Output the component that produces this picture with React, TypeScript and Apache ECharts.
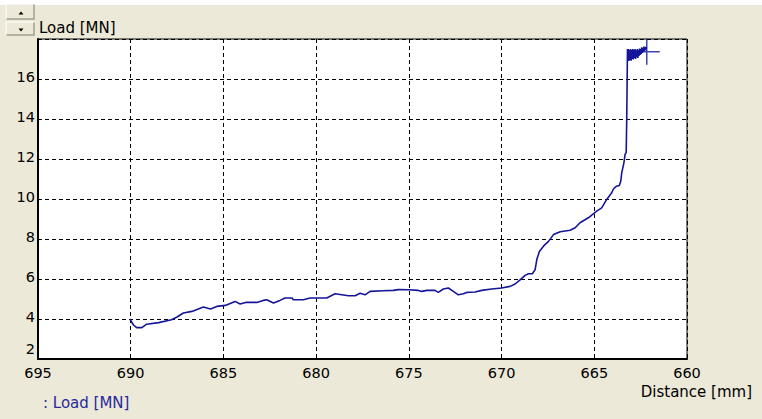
import React, { useEffect, useRef } from "react";
import * as echarts from "echarts";

const distance = [
  690.05, 689.85, 689.68, 689.4, 689.14, 688.5, 687.8, 687.5, 687.16, 686.7,
  686.08, 685.7, 685.36, 684.9, 684.37, 684.1, 683.8, 683.2, 682.85, 682.67,
  682.3, 681.95, 681.68, 681.3, 681.23, 680.69, 680.33, 679.43, 678.98, 678.62,
  678.26, 677.9, 677.63, 677.36, 677.09, 676.38, 675.84, 675.57, 675.03, 674.49,
  674.3, 674.03, 673.59, 673.41, 673.14, 672.87, 672.6, 672.33, 672.06, 671.88,
  671.43, 671.07, 670.53, 670.0, 669.54, 669.27, 669.0, 668.73, 668.55, 668.34,
  668.19, 668.1, 667.96, 667.74, 667.47, 667.2, 666.84, 666.3, 666.03, 665.77,
  665.32, 664.87, 664.6, 664.33, 664.06, 663.97, 663.8, 663.65, 663.57, 663.52,
  663.4, 663.34, 663.28, 663.25, 663.21,
  663.19, 663.16, 663.13, 663.1, 663.07, 663.04, 663.01, 662.98, 662.95, 662.92,
  662.89, 662.86, 662.83, 662.8, 662.77, 662.74, 662.71, 662.68, 662.65, 662.62,
  662.59, 662.56, 662.53, 662.5, 662.47, 662.44, 662.41, 662.38, 662.35, 662.32,
  662.29, 662.26, 662.23, 662.2,
];
const load = [
  4.0, 3.7, 3.57, 3.57, 3.74, 3.82, 3.96, 4.1, 4.3, 4.38,
  4.6, 4.5, 4.63, 4.68, 4.88, 4.75, 4.83, 4.83, 4.93, 4.96,
  4.8, 4.93, 5.05, 5.05, 4.96, 4.96, 5.05, 5.05, 5.26, 5.21,
  5.16, 5.16, 5.29, 5.21, 5.38, 5.41, 5.43, 5.47, 5.46, 5.43,
  5.38, 5.43, 5.43, 5.33, 5.5, 5.55, 5.38, 5.21, 5.26, 5.33,
  5.35, 5.43, 5.5, 5.55, 5.63, 5.75, 5.96, 6.18, 6.26, 6.26,
  6.47, 6.97, 7.38, 7.64, 7.88, 8.22, 8.36, 8.44, 8.56, 8.81,
  9.06, 9.39, 9.56, 9.98, 10.31, 10.5, 10.64, 10.68, 10.9, 11.31,
  11.82, 12.23, 12.32, 13.99, 17.5,
  16.95, 17.5, 16.9, 17.45, 16.95, 17.5, 16.92, 17.45, 17.0, 17.5,
  16.98, 17.45, 17.05, 17.5, 17.0, 17.42, 17.1, 17.5, 17.05, 17.45,
  17.15, 17.52, 17.2, 17.5, 17.25, 17.58, 17.3, 17.55, 17.35, 17.62,
  17.4, 17.6, 17.45, 17.6,
];
const cursorPoint = [662.17, 17.36];

const xTicks = { min: 660, max: 695, interval: 5 };
const yTicks = { min: 2, max: 18, interval: 2 };

const BLUE = "#15159A";
const FONT = "DejaVu Sans";

export default function App() {
  const ref = useRef<HTMLDivElement>(null);
  useEffect(() => {
    if (!ref.current) return;
    const chart = echarts.init(ref.current, null, { renderer: "svg" });
    const data = distance.map((d, i) => [d, load[i]]);
    chart.setOption({
      animation: false,
      backgroundColor: "transparent",
      grid: {
        left: 38,
        top: 39,
        right: 75,
        bottom: 60,
        show: true,
        backgroundColor: "#ffffff",
        borderColor: "#000000",
        borderWidth: 1,
      },
      legend: {
        left: 33,
        top: 390,
        icon: "none",
        itemWidth: 0,
        itemHeight: 14,
        formatter: ": Load [MN]",
        textStyle: { color: "#28289C", fontFamily: FONT, fontSize: 15 },
        data: ["Load [MN]"],
      },
      xAxis: {
        type: "value",
        inverse: true,
        min: xTicks.min,
        max: xTicks.max,
        interval: xTicks.interval,
        axisLine: { show: true, lineStyle: { color: "#000", width: 2 } },
        axisTick: { show: false },
        axisLabel: {
          color: "#000",
          fontFamily: FONT,
          fontSize: 14.5,
          margin: 6,
        },
        splitLine: {
          show: true,
          lineStyle: { color: "#000", type: [4, 3], width: 1 },
        },
      },
      yAxis: {
        type: "value",
        min: yTicks.min,
        max: yTicks.max,
        interval: yTicks.interval,
        axisLine: { show: true, lineStyle: { color: "#000", width: 2 } },
        axisTick: { show: false },
        axisLabel: {
          color: "#000",
          fontFamily: FONT,
          fontSize: 14.5,
          margin: 3,
          showMaxLabel: false,
          formatter: (v: number) => (v === yTicks.min ? "{lo|" + v + "}" : "{n|" + v + "}"),
          rich: {
            lo: { fontFamily: FONT, fontSize: 14.5, color: "#000", padding: [0, 0, 20, 0] },
            n: { fontFamily: FONT, fontSize: 14.5, color: "#000", padding: [0, 0, 4, 0] },
          },
        },
        splitLine: {
          show: true,
          lineStyle: { color: "#000", type: [4, 3], width: 1 },
        },
      },
      graphic: [
        {
          type: "text",
          left: 39,
          top: 20,
          style: { text: "Load [MN]", fill: "#000", font: `15px "${FONT}"` },
        },
        {
          type: "text",
          right: 10,
          top: 384,
          style: { text: "Distance [mm]", fill: "#000", font: `15px "${FONT}"` },
        },
        {
          type: "group",
          children: [
            { type: "rect", shape: { x: 6, y: 4, width: 28, height: 15 }, style: { fill: "#ECE9D8", stroke: "#ffffff", lineWidth: 1 } },
            { type: "polyline", shape: { points: [[6.5, 19], [34, 19], [34, 4.5]] }, style: { stroke: "#A09C8C", lineWidth: 1.5, fill: "none" } },
            { type: "polygon", shape: { points: [[18.5, 14.5], [23.5, 14.5], [21, 11.5]] }, style: { fill: "#000" } },
            { type: "rect", shape: { x: 6, y: 22, width: 28, height: 13 }, style: { fill: "#ECE9D8", stroke: "#ffffff", lineWidth: 1 } },
            { type: "polyline", shape: { points: [[6.5, 35], [34, 35], [34, 22.5]] }, style: { stroke: "#A09C8C", lineWidth: 1.5, fill: "none" } },
            { type: "polygon", shape: { points: [[18.5, 28.5], [23.5, 28.5], [21, 31.5]] }, style: { fill: "#000" } },
          ],
        },
      ],
      series: [
        {
          name: "Load [MN]",
          type: "line",
          data,
          showSymbol: false,
          symbol: "none",
          lineStyle: { color: BLUE, width: 1.6 },
          itemStyle: { color: BLUE },
          clip: true,
          z: 3,
        },
        {
          name: "cursor",
          type: "scatter",
          data: [cursorPoint],
          symbol: "path://M0,-13L0,13M-13,0L13,0",
          symbolSize: 26,
          itemStyle: { color: "none", borderColor: BLUE, borderWidth: 1.5 },
          z: 4,
        },
      ],
    });
    return () => chart.dispose();
  }, []);
  return (
    <div
      style={{
        position: "fixed",
        left: 0,
        top: 0,
        width: 762,
        height: 419,
        background: "linear-gradient(#ffffff 0px, #ffffff 5px, #ECE9D8 5px)",
      }}
    >
      <div ref={ref} style={{ width: 762, height: 419 }} />
    </div>
  );
}
